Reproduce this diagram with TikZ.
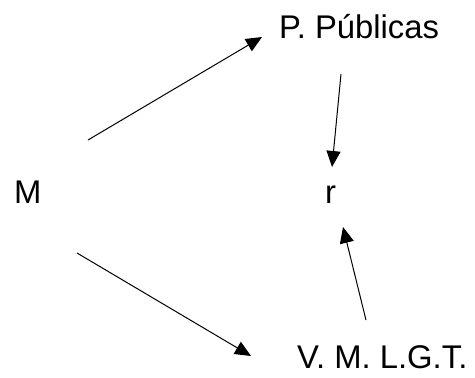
\documentclass[tikz,border=0pt]{standalone}
\usepackage{fontspec}
\setmainfont{Liberation Sans}
\usetikzlibrary{arrows.meta}
\begin{document}
\begin{tikzpicture}[x=1pt,y=-1pt,
  lbl/.style={anchor=base west,inner sep=0pt,font=\fontsize{32.8}{38}\selectfont},
  conn/.style={line width=1pt,-{Triangle[length=16pt,width=14pt]}}]
\useasboundingbox (0,0) rectangle (475,378);
\node[lbl] (pp) at (279,38) {P. Públicas};
\node[lbl] (m) at (14,203) {M};
\node[lbl] (r) at (325,203) {r};
\node[lbl] (vm) at (297,368) {V. M. L.G.T.};
\coordinate (a1s) at (88,140);
\coordinate (a1e) at (262,37);
\coordinate (a2s) at (341,74);
\coordinate (a2e) at (332,167);
\coordinate (a3s) at (77,253);
\coordinate (a3e) at (251,356);
\coordinate (a4s) at (366,320);
\coordinate (a4e) at (343,227);
\draw[conn] (a1s) -- (a1e);
\draw[conn] (a2s) -- (a2e);
\draw[conn] (a3s) -- (a3e);
\draw[conn] (a4s) -- (a4e);
\end{tikzpicture}
\end{document}
